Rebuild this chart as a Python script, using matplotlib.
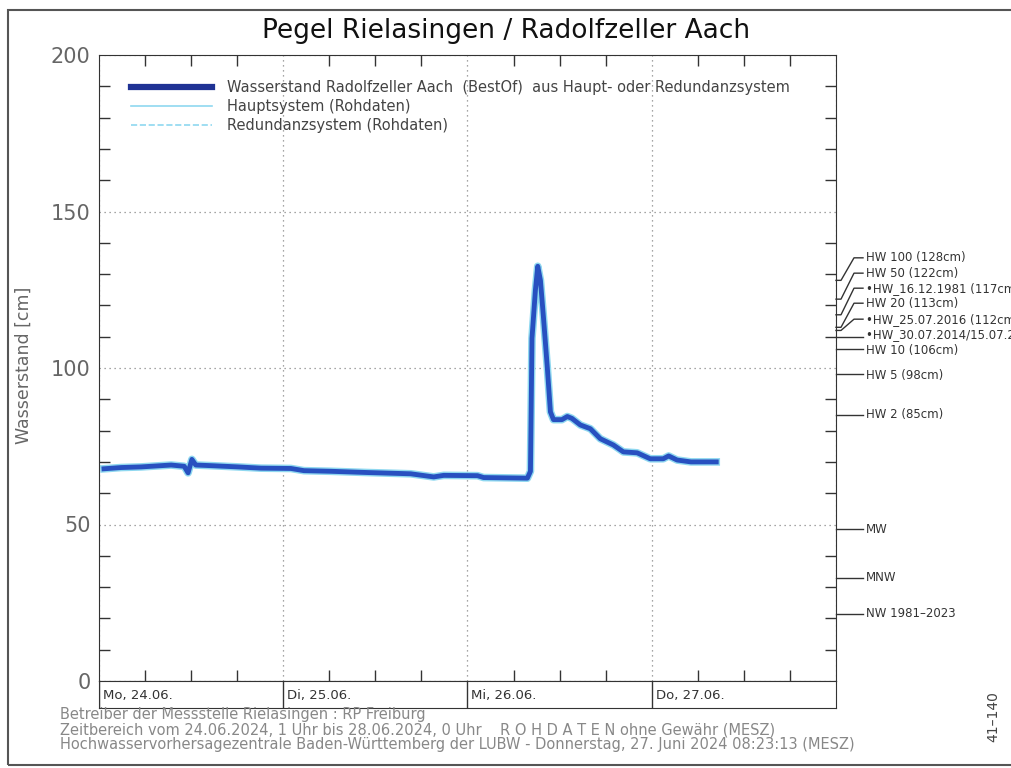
import matplotlib
matplotlib.use("Agg")
import matplotlib.pyplot as plt
from matplotlib.ticker import MultipleLocator, NullFormatter
from matplotlib.patches import Rectangle
from matplotlib.lines import Line2D

# hours since Mo 24.06.2024 00:00 and water level in cm
stunden = [0.65, 2.9, 5.5, 9.4, 11.1, 11.6, 12.1, 12.6, 14.6, 18.1, 21.1, 25.0, 26.7,
           30.2, 35.0, 40.6, 43.6, 44.9, 49.3, 50.1, 55.8, 56.2, 56.4, 56.85, 57.15,
           57.5, 57.9, 58.4, 58.8, 59.2, 60.3, 61.0, 61.6, 62.7, 64.0, 65.3, 67.0,
           68.3, 70.1, 71.8, 73.5, 74.2, 75.3, 77.1, 80.4]
wasserstand = [67.8, 68.2, 68.4, 69.0, 68.6, 66.5, 70.8, 69.0, 68.8, 68.4, 68.0, 67.9, 67.2,
               67.0, 66.6, 66.2, 65.2, 65.7, 65.6, 65.0, 64.8, 67.0, 109.5, 125.0, 132.5,
               128.0, 116.0, 100.0, 86.0, 83.5, 83.5, 84.5, 83.9, 81.8, 80.6, 77.4, 75.4,
               73.2, 72.9, 71.0, 71.0, 71.9, 70.6, 70.0, 70.0]
hauptsystem = list(wasserstand)
redundanz = list(wasserstand)

tage = ["Mo, 24.06.", "Di, 25.06.", "Mi, 26.06.", "Do, 27.06."]

# reference levels: (level in cm, label position in cm, label)
kennwerte = [128, 122, 117, 113, 112, 110, 106, 98, 85, 48.5, 33, 21.5]
label_pos = [135.2, 130.3, 125.5, 120.7, 115.6, 110.8, 105.6, 97.6, 85.1, 48.5, 33, 21.5]
kennwert_labels = ["HW 100 (128cm)", "HW 50 (122cm)", "\u2022HW_16.12.1981 (117cm)",
                   "HW 20 (113cm)", "\u2022HW_25.07.2016 (112cm)",
                   "\u2022HW_30.07.2014/15.07.2021 (110cm)", "HW 10 (106cm)",
                   "HW 5 (98cm)", "HW 2 (85cm)", "MW", "MNW", "NW 1981\u20132023"]

fig = plt.figure(figsize=(10.12, 7.68), dpi=100)
plt.rcParams["font.family"] = ["DejaVu Sans"]

W, H = 1012, 768
ax = fig.add_axes([99 / W, 1 - 681 / H, 737 / W, 626 / H])

blau = "#2850c0"
cyan = "#8fd8f0"
ax.plot(stunden, hauptsystem, color=cyan, lw=5.5, solid_joinstyle="round", zorder=2)
ax.plot(stunden, redundanz, color=cyan, lw=1, ls="--", zorder=2)
ax.plot(stunden, wasserstand, color=blau, lw=3.5, solid_joinstyle="round", zorder=3)

ax.set_xlim(0, 96)
ax.set_ylim(0, 200)
ax.set_yticks([0, 50, 100, 150, 200])
ax.yaxis.set_minor_locator(MultipleLocator(10))
ax.set_xticks([0, 24, 48, 72, 96])
ax.xaxis.set_minor_locator(MultipleLocator(6))
ax.xaxis.set_major_formatter(NullFormatter())
ax.tick_params(axis="both", which="major", length=0)
ax.tick_params(axis="y", which="major", labelsize=15, labelcolor="#666", pad=6)
ax.tick_params(which="minor", direction="in", length=8, width=1, color="#333",
               left=True, right=True, top=True, bottom=True)
ax.grid(True, which="major", ls=(0, (1, 3)), color="#888", lw=0.9)
for s in ax.spines.values():
    s.set_color("#333")
ax.set_ylabel("Wasserstand [cm]", fontsize=12.5, color="#666")
ax.yaxis.set_label_coords(-0.09, 0.505)

# legend
handles = [Line2D([], [], color="#1f3294", lw=4.5),
           Line2D([], [], color=cyan, lw=1.2),
           Line2D([], [], color=cyan, lw=1.2, ls="--")]
labels = ["Wasserstand Radolfzeller Aach  (BestOf)  aus Haupt- oder Redundanzsystem",
          "Hauptsystem (Rohdaten)", "Redundanzsystem (Rohdaten)"]
ax.legend(handles, labels, loc="upper left", bbox_to_anchor=(0.035, 0.97), frameon=False,
          fontsize=10.5, handlelength=5.6, handletextpad=1.0, labelspacing=0.3,
          labelcolor="#444", borderaxespad=0)

# reference level labels on the right
tr = ax.get_yaxis_transform()
for wert, pos, txt in zip(kennwerte, label_pos, kennwert_labels):
    x0, x1, x2, x3 = 1.0, 1.0 + 5 / 737, 1.0 + 18 / 737, 1.0 + 27 / 737
    if abs(pos - wert) < 1.5:
        ax.plot([x0, x3], [wert, wert], transform=tr, color="#333", lw=1, clip_on=False)
    else:
        ax.plot([x0, x1, x2, x3], [wert, wert, pos, pos], transform=tr, color="#333",
                lw=1, clip_on=False)
    ax.text(1.0 + 30 / 737, pos, txt, transform=tr, fontsize=8.5, color="#333",
            va="center", ha="left", clip_on=False)

# date row below the axes
axd = fig.add_axes([99 / W, 1 - 708 / H, 737 / W, 27 / H])
axd.set_xlim(0, 96)
axd.set_ylim(0, 1)
axd.set_xticks([])
axd.set_yticks([])
for s in axd.spines.values():
    s.set_color("#333")
for i, tag in enumerate(tage):
    axd.axvline(24 * i, color="#333", lw=1)
    axd.text(24 * i + 0.5, 0.45, tag, fontsize=9.5, color="#333", va="center", ha="left")

fig.suptitle("Pegel Rielasingen / Radolfzeller Aach", fontsize=19, y=1 - 31 / H,
             va="center", color="#111")

fuss = ["Betreiber der Messstelle Rielasingen : RP Freiburg",
        "Zeitbereich vom 24.06.2024, 1 Uhr bis 28.06.2024, 0 Uhr    R O H D A T E N ohne Gew\u00e4hr (MESZ)",
        "Hochwasservorhersagezentrale Baden-W\u00fcrttemberg der LUBW - Donnerstag, 27. Juni 2024 08:23:13 (MESZ)"]
for i, z in enumerate(fuss):
    fig.text(60 / W, 1 - (715 + 15 * i) / H, z, fontsize=10.5, color="#888",
             va="center", ha="left")

fig.text(993 / W, 1 - 717 / H, "41\u2013140", rotation=90, fontsize=10, color="#444",
         va="center", ha="center")

fig.patches.append(Rectangle((8 / W, 1 - 765 / H), 1.1, (765 - 10) / H,
                             transform=fig.transFigure, fill=False, ec="#555", lw=1.5))

fig.savefig("out.png", dpi=100)
